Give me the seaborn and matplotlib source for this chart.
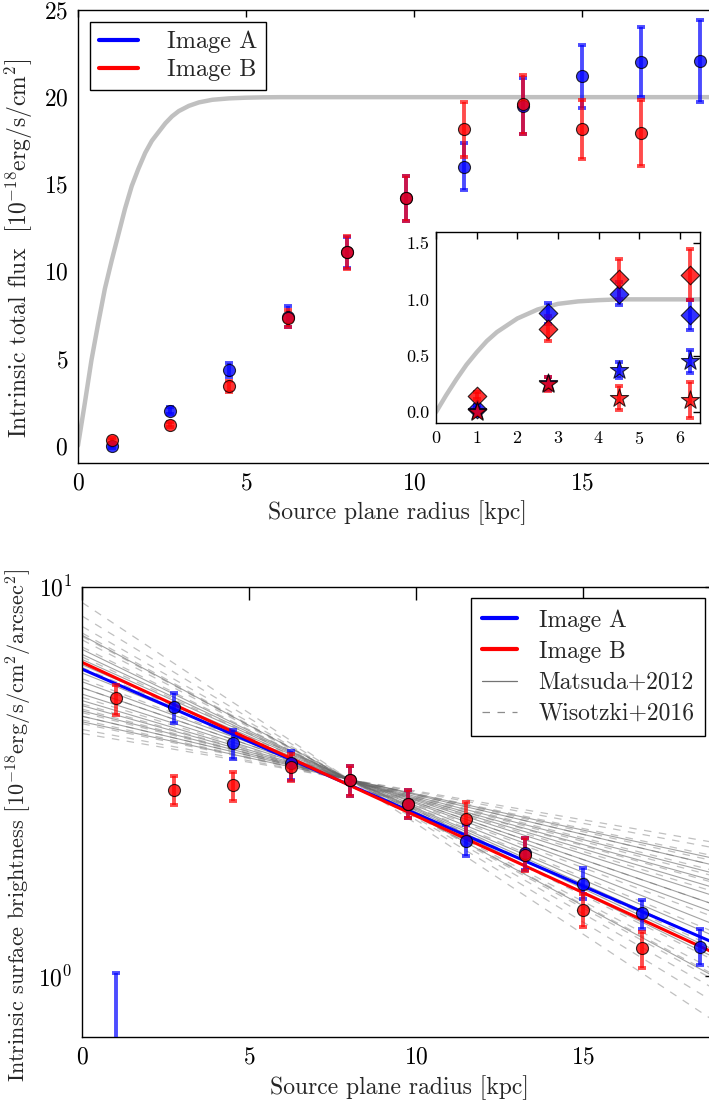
import numpy as np
import pandas as pd
import matplotlib
matplotlib.use("Agg")
import matplotlib.pyplot as plt
from matplotlib.lines import Line2D
import seaborn as sns

# === DATA ===
radius = [1.0, 2.75, 4.5, 6.25, 8.0, 9.75, 11.5, 13.25, 15.0, 16.75, 18.5]

# total flux (top panel)
flux_a = [0.0, 2.0, 4.35, 7.4, 11.1, 14.2, 16.0, 19.5, 21.2, 22.0, 22.1]
flux_a_err = [0.15, 0.2, 0.4, 0.6, 0.9, 1.3, 1.35, 1.6, 1.8, 2.0, 2.35]
flux_b = [0.3, 1.2, 3.4, 7.3, 11.1, 14.2, 18.15, 19.6, 18.15, 17.95, np.nan]
flux_b_err = [0.15, 0.15, 0.3, 0.5, 0.95, 1.3, 1.6, 1.7, 1.7, 1.9, np.nan]

# PSF-like curve of the total flux
curve_r = [0, 0.2, 0.4, 0.6, 0.8, 1.0, 1.2, 1.4, 1.6, 1.8, 2.0, 2.2, 2.4, 2.6, 2.8, 3.0,
           3.3, 3.6, 4.0, 4.5, 5.0, 5.5, 6.0, 19.0]
curve_f = [0, 2.4, 4.9, 7.0, 9.0, 10.6, 12.1, 13.6, 14.9, 15.9, 16.8, 17.5, 18.0, 18.5, 18.9, 19.2,
           19.5, 19.7, 19.85, 19.93, 19.97, 19.99, 20.0, 20.0]

# inset
inset_r = [1.0, 2.75, 4.5, 6.25]
diam_a = [0.03, 0.875, 1.05, 0.86]
diam_a_err = [0.03, 0.09, 0.1, 0.13]
diam_b = [0.145, 0.74, 1.18, 1.22]
diam_b_err = [0.03, 0.11, 0.18, 0.23]
star_a = [0.01, 0.255, 0.375, 0.45]
star_a_err = [0.03, 0.06, 0.07, 0.1]
star_b = [0.0, 0.25, 0.125, 0.11]
star_b_err = [0.03, 0.06, 0.11, 0.16]
inset_curve_r = [0, 0.25, 0.5, 0.75, 1.0, 1.25, 1.5, 2.0, 2.5, 3.0, 3.5, 4.0, 4.5, 6.5]
inset_curve_f = [0, 0.15, 0.29, 0.42, 0.53, 0.63, 0.71, 0.83, 0.91, 0.96, 0.982, 0.993, 1.0, 1.0]

# surface brightness (bottom panel)
sb_a = [0.45, 4.9, 3.96, 3.53, 3.2, 2.77, 2.23, 2.07, 1.73, 1.45, 1.19]
sb_a_lo = [0.15, 0.43, 0.34, 0.33, 0.3, 0.22, 0.19, 0.2, 0.15, 0.13, 0.12]
sb_a_hi = [0.57, 0.44, 0.34, 0.25, 0.27, 0.24, 0.21, 0.19, 0.17, 0.12, 0.13]
sb_b = [5.18, 3.0, 3.09, 3.44, 3.2, 2.77, 2.53, 2.05, 1.48, 1.18, np.nan]
sb_b_lo = [0.5, 0.25, 0.27, 0.27, 0.3, 0.22, 0.25, 0.19, 0.14, 0.13, np.nan]
sb_b_hi = [0.41, 0.26, 0.26, 0.28, 0.27, 0.24, 0.27, 0.21, 0.15, 0.12, np.nan]

# exponential fits (straight on log axis): values at r = 0 and r = 19
fit_r = [0.0, 19.0]
fit_a = [6.14, 1.21]
fit_b = [6.39, 1.14]

# literature profiles, normalised at 8 kpc: values at r = 0 and r = 19
matsuda_left = [7.5, 6.9, 6.7, 6.5, 6.3, 6.0, 5.7, 5.5, 5.3, 5.1, 4.95, 4.8, 4.65, 4.5]
matsuda_right = [0.99, 1.11, 1.16, 1.21, 1.26, 1.35, 1.45, 1.52, 1.60, 1.68, 1.75, 1.83, 1.92, 2.00]
wisotzki_left = [9.1, 8.4, 7.9, 7.6, 7.45, 7.3, 7.0, 6.6, 6.2, 5.8, 5.5, 5.2, 5.0, 4.85,
                 4.75, 4.65, 4.55, 4.45, 4.3, 4.2]
wisotzki_right = [0.76, 0.85, 0.92, 0.97, 1.00, 1.03, 1.09, 1.18, 1.29, 1.41, 1.52, 1.64, 1.73, 1.80,
                  1.86, 1.92, 1.97, 2.03, 2.13, 2.20]

# === STYLE ===
sns.set_style("white")
plt.rcParams.update({
    "font.family": "cmr10",
    "mathtext.fontset": "cm",
    "axes.formatter.use_mathtext": True,
    "font.size": 17,
    "axes.linewidth": 1.0,
    "xtick.direction": "in",
    "ytick.direction": "in",
    "xtick.top": True,
    "ytick.right": True,
    "axes.edgecolor": "black",
    "xtick.color": "black",
    "ytick.color": "black",
})

BLUE = "#0000ff"
RED = "#ff0000"
FS = 17


def points(ax, x, y, err, color, marker, size, lo=None):
    yerr = err if lo is None else [lo, err]
    ax.errorbar(x, y, yerr=yerr, fmt="none", ecolor=color, elinewidth=2.8,
                capsize=3.2, capthick=2.8, alpha=0.7, zorder=3)
    df = pd.DataFrame({"x": x, "y": y}).dropna()
    sns.scatterplot(data=df, x="x", y="y", ax=ax, color=color, marker=marker, s=size,
                    edgecolor="black", linewidth=0.8, alpha=0.8, zorder=4, legend=False)


fig = plt.figure(figsize=(7.09, 11.03), dpi=100)

# === TOP PANEL ===
ax1 = fig.add_axes([0.110, 0.5802, 0.9004, 0.4107])
sns.lineplot(x=curve_r, y=curve_f, ax=ax1, color="#c0c0c0", linewidth=3.2, zorder=1)
points(ax1, radius, flux_a, flux_a_err, BLUE, "o", 75)
points(ax1, radius, flux_b, flux_b_err, RED, "o", 75)
ax1.set_xlim(0, 19)
ax1.set_ylim(-1, 25)
ax1.set_xticks([0, 5, 10, 15])
ax1.set_yticks([0, 5, 10, 15, 20, 25])
ax1.tick_params(length=5, width=1, pad=7, labelsize=FS)
ax1.set_xlabel("Source plane radius [kpc]", fontsize=FS, labelpad=4)
ax1.set_ylabel(r"Intrinsic total flux  $\left[10^{-18}\mathrm{erg/s/cm^2}\right]$", fontsize=FS, labelpad=6)
ax1.yaxis.label.set_y(0.475)
leg_handles = [Line2D([], [], color=BLUE, lw=3), Line2D([], [], color=RED, lw=3)]
leg1 = ax1.legend(leg_handles, ["Image A", "Image B"], loc="upper left", fontsize=17.5,
                  frameon=True, fancybox=False, edgecolor="black", framealpha=1,
                  handlelength=1.6, borderpad=0.35, labelspacing=0.25, handletextpad=1.2,
                  borderaxespad=0.5)
leg1.get_frame().set_linewidth(1.0)

# inset
axi = fig.add_axes([0.6150, 0.6162, 0.3724, 0.1737])
sns.lineplot(x=inset_curve_r, y=inset_curve_f, ax=axi, color="#c0c0c0", linewidth=3.2, zorder=1)
points(axi, inset_r, diam_a, diam_a_err, BLUE, "D", 90)
points(axi, inset_r, diam_b, diam_b_err, RED, "D", 90)
points(axi, inset_r, star_a, star_a_err, BLUE, "*", 190)
points(axi, inset_r, star_b, star_b_err, RED, "*", 190)
axi.set_xlim(0, 6.5)
axi.set_ylim(-0.1, 1.6)
axi.set_xticks(range(0, 7))
axi.set_yticks([0.0, 0.5, 1.0, 1.5])
axi.set_yticklabels(["0.0", "0.5", "1.0", "1.5"])
axi.tick_params(length=5, width=1, pad=5, labelsize=13)
axi.set_xlabel("")
axi.set_ylabel("")

# === BOTTOM PANEL ===
ax2 = fig.add_axes([0.1161, 0.0601, 0.8952, 0.4080])
ax2.set_yscale("log")
for lft, rgt in zip(wisotzki_left, wisotzki_right):
    ax2.plot(fit_r, [lft, rgt], color="0.55", lw=0.9, dashes=(6, 6), alpha=0.55, zorder=1)
for lft, rgt in zip(matsuda_left, matsuda_right):
    ax2.plot(fit_r, [lft, rgt], color="0.4", lw=0.8, alpha=0.6, zorder=1)
sns.lineplot(x=fit_r, y=fit_a, ax=ax2, color=BLUE, linewidth=2.2, zorder=2)
sns.lineplot(x=fit_r, y=fit_b, ax=ax2, color=RED, linewidth=2.2, zorder=2)
points(ax2, radius, sb_a, sb_a_hi, BLUE, "o", 75, lo=sb_a_lo)
points(ax2, radius, sb_b, sb_b_hi, RED, "o", 75, lo=sb_b_lo)
ax2.set_xlim(0, 19)
ax2.set_ylim(0.7, 10)
ax2.set_xticks([0, 5, 10, 15])
ax2.tick_params(which="major", length=9, width=1, pad=7, labelsize=FS)
ax2.tick_params(which="minor", length=5, width=1)
ax2.set_xlabel("Source plane radius [kpc]", fontsize=FS, labelpad=5)
ax2.set_ylabel(r"Intrinsic surface brightness $\left[10^{-18}\mathrm{erg/s/cm^2/arcsec^2}\right]$",
               fontsize=16, labelpad=3)
ax2.yaxis.label.set_y(0.47)
leg_handles2 = [Line2D([], [], color=BLUE, lw=3), Line2D([], [], color=RED, lw=3),
                Line2D([], [], color="0.45", lw=0.9),
                Line2D([], [], color="0.55", lw=0.9, dashes=(6, 6))]
leg2 = ax2.legend(leg_handles2, ["Image A", "Image B", "Matsuda+2012", "Wisotzki+2016"],
                  loc="upper right", fontsize=17, frameon=True, fancybox=False,
                  edgecolor="black", framealpha=1, handlelength=1.5, borderpad=0.45,
                  labelspacing=0.38, handletextpad=0.9, borderaxespad=0.5)
leg2.get_frame().set_linewidth(1.0)

fig.savefig("out.png", dpi=100)
